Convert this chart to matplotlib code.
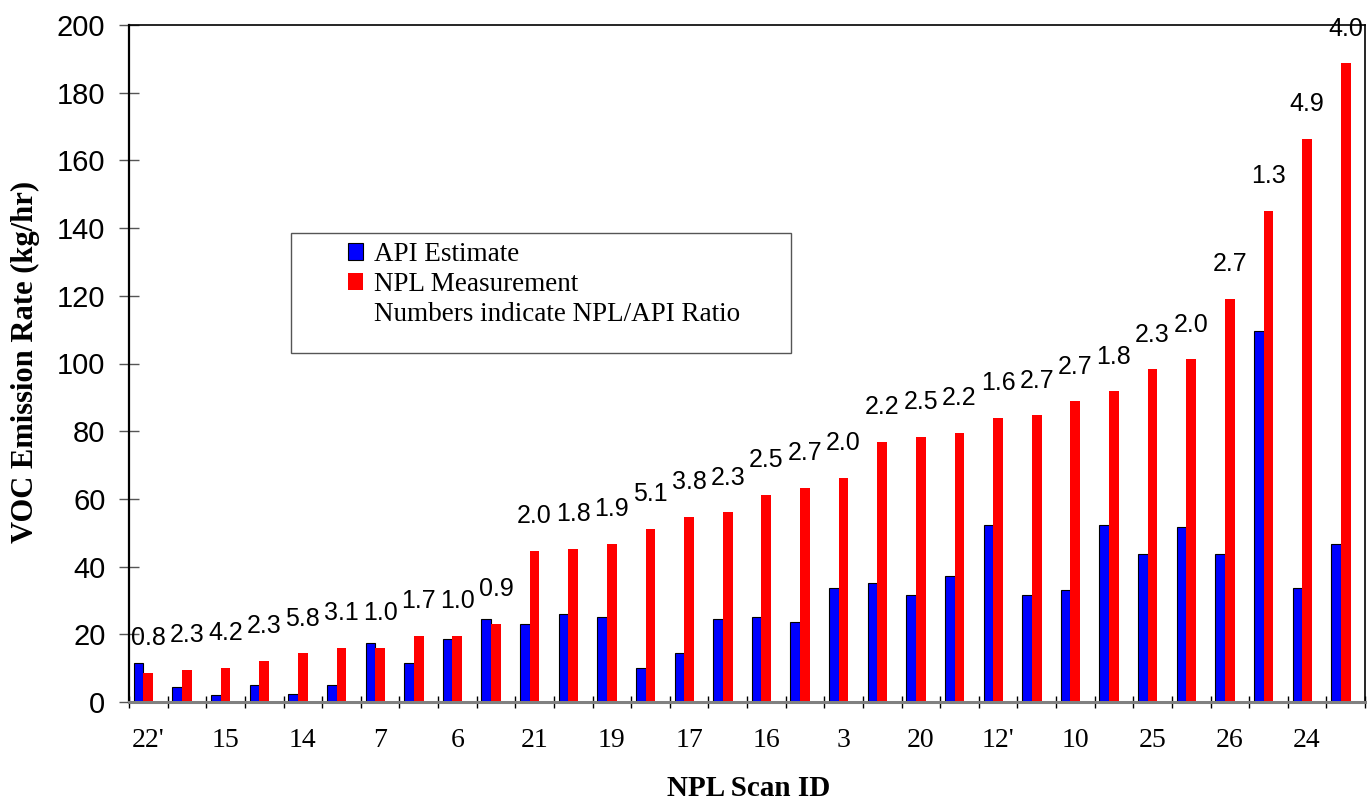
import numpy as np
import matplotlib.pyplot as plt
from matplotlib.patches import Patch, Rectangle

SANS = 'Liberation Sans'
SERIF = 'Liberation Serif'

# every other scan id is shown on the axis (as in the original)
scan_ids = ["22'", "15", "14", "7", "6", "21", "19", "17",
            "16", "3", "20", "12'", "10", "25", "26", "24"]
api_estimate = [11.4, 4.4, 2.2, 5.0, 2.4, 5.1, 17.3, 11.4, 18.6, 24.5, 23.0,
                26.0, 25.1, 10.0, 14.5, 24.5, 25.1, 23.6, 33.7, 35.2, 31.6,
                37.2, 52.3, 31.6, 33.1, 52.3, 43.7, 51.7, 43.7, 109.7, 33.6, 46.7]
npl_measured = [8.6, 9.4, 10.0, 12.1, 14.4, 15.9, 15.9, 19.5, 19.5, 23.0, 44.6,
                45.2, 46.7, 51.1, 54.6, 56.0, 61.2, 63.2, 66.2, 76.8, 78.3,
                79.6, 83.9, 84.7, 88.8, 91.8, 98.3, 101.2, 119.1, 145.0, 166.3, 188.7]
ratios = [0.8, 2.3, 4.2, 2.3, 5.8, 3.1, 1.0, 1.7, 1.0, 0.9, 2.0, 1.8, 1.9, 5.1,
          3.8, 2.3, 2.5, 2.7, 2.0, 2.2, 2.5, 2.2, 1.6, 2.7, 2.7, 1.8, 2.3, 2.0,
          2.7, 1.3, 4.9, 4.0]

x = np.arange(len(npl_measured))
w = 0.25

fig = plt.figure(figsize=(13.67, 8.07), dpi=100)
ax = fig.add_axes([129/1367, 105/807, 1236/1367, 677/807])

ax.bar(x - w, api_estimate, width=w, color='#0000ff', edgecolor='black',
       linewidth=0.8, zorder=2)
ax.bar(x, npl_measured, width=w, color='#ff0000', linewidth=0, zorder=2)

for xi, yi, r in zip(x, npl_measured, ratios):
    ax.annotate(f'{r:.1f}', (xi, yi), xytext=(0, 25), textcoords='offset points',
                ha='center', va='center', fontsize=18, family=SANS,
                annotation_clip=False)

ax.set_xlim(-0.5, len(x) - 0.5)
ax.set_ylim(0, 200)

ax.set_yticks(np.arange(0, 201, 20))
ax.tick_params(axis='y', direction='inout', length=14, width=1, color='#555555',
               pad=10, labelsize=21)
for t in ax.get_yticklabels():
    t.set_family(SANS)

ax.set_xticks(x[::2])
ax.set_xticklabels(scan_ids, family=SERIF, fontsize=20)
ax.set_xticks(np.arange(-0.5, len(x), 1), minor=True)
ax.tick_params(axis='x', which='major', length=0, pad=19)
ax.tick_params(axis='x', which='minor', direction='inout', length=9, width=1,
               color='black')

ax.spines['left'].set_linewidth(1.6)
ax.spines['top'].set_linewidth(1.2)
ax.spines['right'].set_linewidth(1.2)
ax.spines['bottom'].set_linewidth(2.2)
ax.spines['bottom'].set_color('#808080')

ax.set_ylabel('VOC Emission Rate (kg/hr)', family=SERIF, fontweight='bold',
              fontsize=22)
ax.yaxis.set_label_coords(-0.072, 0.503)
ax.set_xlabel('NPL Scan ID', family=SERIF, fontweight='bold', fontsize=21)
ax.xaxis.set_label_coords(0.5016, -0.108)

# legend box
ax.add_patch(Rectangle((0.131, 0.5155), 0.405, 0.177, transform=ax.transAxes,
                       facecolor='white', edgecolor='#555555', linewidth=1,
                       zorder=4))
handles = [Patch(facecolor='#0000ff', edgecolor='black', linewidth=0.8),
           Patch(facecolor='#ff0000', edgecolor='none'),
           Patch(facecolor='none', edgecolor='none')]
labels = ['API Estimate', 'NPL Measurement', 'Numbers indicate NPL/API Ratio']
leg = ax.legend(handles, labels, loc='upper left', bbox_to_anchor=(0.177, 0.679),
                frameon=False, borderpad=0, borderaxespad=0, handlelength=0.55,
                handleheight=0.6, handletextpad=0.4, labelspacing=0.17,
                prop={'family': SERIF, 'size': 19.5})
leg.set_zorder(5)

plt.savefig('out.png', dpi=100)
